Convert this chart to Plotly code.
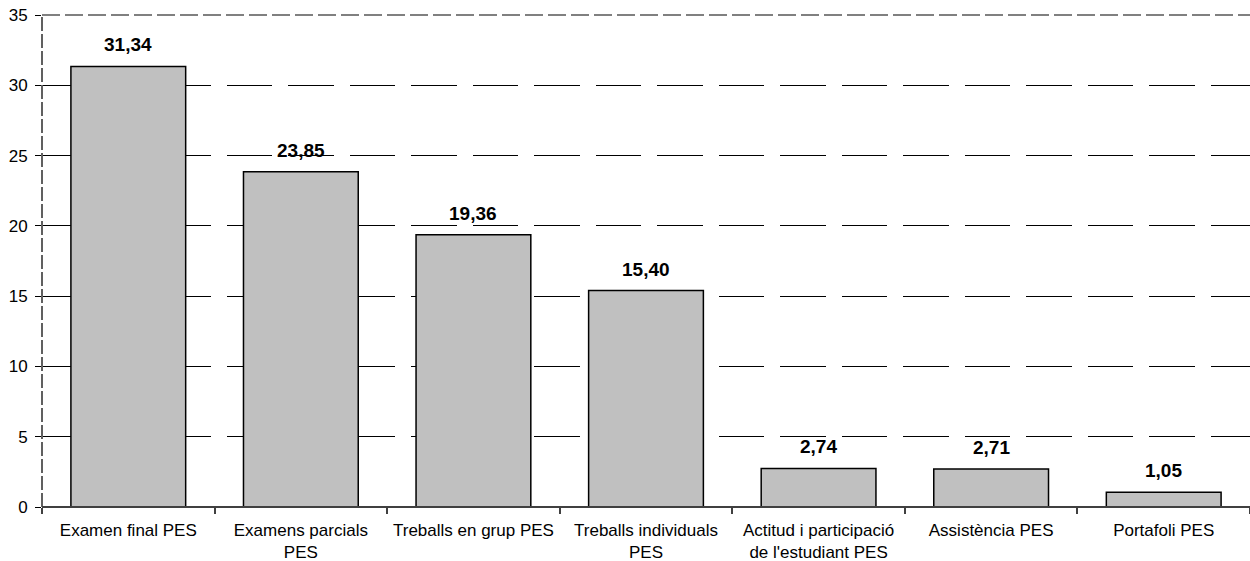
import plotly.graph_objects as go

categories = ["Examen final PES", "Examens parcials<br>PES", "Treballs en grup PES",
              "Treballs individuals<br>PES", "Actitud i participació<br>de l'estudiant PES",
              "Assistència PES", "Portafoli PES"]
values = [31.34, 23.85, 19.36, 15.40, 2.74, 2.71, 1.05]
y_ticks = [0, 5, 10, 15, 20, 25, 30, 35]

labels = [f"{v:.2f}".replace(".", ",") for v in values]
FONT = "Liberation Sans, Arial, sans-serif"

fig = go.Figure(go.Bar(
    x=categories, y=values, width=0.665,
    marker=dict(color="#c0c0c0", line=dict(color="black", width=1.5)),
))

for c, v, t in zip(categories, values, labels):
    fig.add_annotation(x=c, y=v, text=f"<b>{t}</b>", showarrow=False,
                       yanchor="bottom", yshift=9,
                       font=dict(family=FONT, size=19, color="black"))

fig.update_layout(
    width=1250, height=561,
    margin=dict(l=42, r=0, t=15, b=54),
    paper_bgcolor="white", plot_bgcolor="white",
    showlegend=False,
    font=dict(family=FONT, size=17, color="black"),
)
fig.update_xaxes(
    range=[-0.5, 6.5], showgrid=False, automargin=False,
    showline=False,
    ticks="outside", tickson="boundaries", ticklen=6, tickcolor="#404040", tickwidth=1.5,
    tickfont=dict(size=17), ticklabelstandoff=11,
)
fig.update_yaxes(
    range=[0, 35], tickvals=y_ticks, ticktext=[str(t) for t in y_ticks],
    showgrid=True, gridcolor="black", gridwidth=1, griddash="45.5px,16px",
    showline=False, automargin=False, ticklabeloverflow="allow",
    ticks="outside", ticklen=6, tickcolor="black",
    tickfont=dict(size=17), zeroline=False, ticklabelstandoff=4,
)
# chart border lines (dashed gray frame, dark baseline)
fig.add_shape(type="line", xref="paper", yref="paper", x0=0, x1=1, y0=1, y1=1,
              line=dict(color="#808080", width=2, dash="18px,5px"))
fig.add_shape(type="line", xref="paper", yref="paper", x0=0, x1=0, y0=0, y1=1,
              line=dict(color="#606060", width=2, dash="14px,3px"))
fig.add_shape(type="line", xref="paper", yref="paper", x0=0, x1=1, y0=0, y1=0,
              line=dict(color="#404040", width=2))

fig.write_html("out.html", config={"displayModeBar": False},
               post_script="document.body.style.margin='0';document.body.style.overflow='hidden';")
